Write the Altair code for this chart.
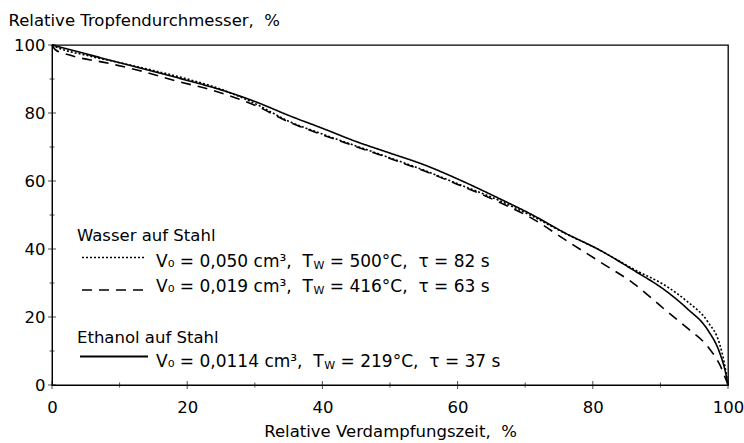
import altair as alt
import pandas as pd

# Evaporation curves: relative drop diameter (%) over relative evaporation time (%)
series_names = ["Wasser 0,050", "Wasser 0,019", "Ethanol 0,0114"]

t_w050 = [0, 1, 5, 10, 15, 20, 25, 30, 35, 40, 45, 50, 55, 60, 66, 71, 76, 81, 86, 91, 94, 97, 98.8, 99.5, 100]
d_w050 = [100, 99.1, 97.0, 94.8, 92.5, 90.0, 87.0, 82.8, 77.6, 73.8, 70.3, 66.8, 63.2, 59.2, 54.4, 49.7, 44.5, 39.7, 34.1, 28.9, 24.5, 18.6, 11.8, 6.0, 0]

t_w019 = [0, 0.5, 2.5, 8.4, 13.3, 18.2, 23.7, 30, 35, 40, 45, 50, 55, 60, 66, 71, 76, 81, 86, 91, 94, 97, 98.8, 100]
d_w019 = [100, 98.6, 97.1, 94.6, 92.3, 89.5, 86.7, 82.3, 77.4, 73.6, 70.1, 66.6, 63.0, 59.0, 53.9, 49.0, 42.6, 36.3, 29.9, 21.6, 16.7, 11.3, 5.9, 0]

t_eth = [0, 5, 10, 15, 20, 25, 30, 35, 40, 45, 50, 55, 60, 66, 71, 76, 81, 86, 91, 94, 97, 98.8, 99.6, 100]
d_eth = [100, 97.4, 94.8, 92.2, 89.6, 86.8, 83.4, 79.3, 75.5, 71.6, 68.2, 64.8, 60.6, 55.0, 50.1, 44.6, 39.7, 33.8, 27.4, 22.4, 16.2, 9.3, 4.0, 0]

tick_major = [0, 20, 40, 60, 80, 100]
tick_minor = [10, 30, 50, 70, 90]

NB = "\u00a0"  # non-breaking space keeps double spaces in SVG text

y_title = f"Relative Tropfendurchmesser,{NB}{NB}%"
x_title = f"Relative Verdampfungszeit,{NB}{NB}%"

legend_heads = ["Wasser auf Stahl", "Ethanol auf Stahl"]
legend_sym = [f"V₀{NB}={NB}0,050{NB}cm³,{NB}{NB}T",
              f"V₀{NB}={NB}0,019{NB}cm³,{NB}{NB}T",
              f"V₀{NB}={NB}0,0114{NB}cm³,{NB}{NB}T"]
legend_sub = "W"
legend_tail = [f"={NB}500°C,{NB}{NB}τ{NB}={NB}82{NB}s",
               f"={NB}416°C,{NB}{NB}τ{NB}={NB}63{NB}s",
               f"={NB}219°C,{NB}{NB}τ{NB}={NB}37{NB}s"]

FONT = "DejaVu Sans"
FS = 16.5
ROW_FS = 17
SUB_FS = 11
W, H = 676, 340

# advance widths (em) of DejaVu Sans, used to place the subscript pieces
ADV = {"V": .684, "₀": .401, NB: .318, " ": .318, "=": .838, "0": .636, "1": .636, "4": .636,
       "5": .636, "9": .636, ",": .318, "c": .550, "m": .974, "³": .401, "T": .611, "W": .989}


def text_width(s, size):
    return sum(ADV.get(ch, .6) for ch in s) * size


frames = []
for name, t, d in zip(series_names, [t_w050, t_w019, t_eth], [d_w050, d_w019, d_eth]):
    frames.append(pd.DataFrame({"t": t, "d": d, "series": name}))
curves = pd.concat(frames, ignore_index=True)

x_scale = alt.Scale(domain=[0, 100], nice=False)
y_scale = alt.Scale(domain=[0, 100], nice=False)

# identical axis definitions in every layer so they merge into one axis each
x_axis = alt.Axis(values=tick_major, title=x_title, ticks=False, grid=False,
                  labelFlush=False, labelPadding=14, titlePadding=8)
y_axis = alt.Axis(values=tick_major, title=y_title, ticks=False, grid=False,
                  labelFlush=False, labelPadding=7, titleAngle=0, titleAlign="left",
                  titleBaseline="alphabetic", titleX=-44, titleY=-20)

lines = alt.Chart(curves).mark_line(color="black", interpolate="monotone").encode(
    x=alt.X("t:Q", scale=x_scale, axis=x_axis),
    y=alt.Y("d:Q", scale=y_scale, axis=y_axis),
    strokeDash=alt.StrokeDash("series:N",
                              scale=alt.Scale(domain=series_names, range=[[2, 2], [10, 7], [1, 0]]),
                              legend=None),
    strokeWidth=alt.StrokeWidth("series:N",
                                scale=alt.Scale(domain=series_names, range=[1.6, 1.6, 1.9]),
                                legend=None),
)

# axis ticks crossing the axis lines
xt_major = alt.Chart(pd.DataFrame({"t": tick_major})).mark_tick(
    orient="vertical", size=8, thickness=1, color="black").encode(
    x=alt.X("t:Q", scale=x_scale, axis=x_axis), y=alt.value(H))
xt_minor = alt.Chart(pd.DataFrame({"t": tick_minor})).mark_tick(
    orient="vertical", size=5, thickness=1, color="black").encode(
    x=alt.X("t:Q", scale=x_scale, axis=x_axis), y=alt.value(H))
yt_major = alt.Chart(pd.DataFrame({"d": tick_major})).mark_tick(
    orient="horizontal", size=8, thickness=1, color="black").encode(
    y=alt.Y("d:Q", scale=y_scale, axis=y_axis), x=alt.value(0))
yt_minor = alt.Chart(pd.DataFrame({"d": tick_minor})).mark_tick(
    orient="horizontal", size=5, thickness=1, color="black").encode(
    y=alt.Y("d:Q", scale=y_scale, axis=y_axis), x=alt.value(0))


# legend block inside the plot
def label(txt, x, y, size=FS):
    return alt.Chart().mark_text(align="left", baseline="alphabetic", font=FONT,
                                 fontSize=size, color="black").encode(
        x=alt.value(x), y=alt.value(y), text=alt.value(txt))


def sample(x1, x2, y, dash, width):
    return alt.Chart().mark_rule(color="black", strokeWidth=width, strokeDash=dash).encode(
        x=alt.value(x1), x2=alt.value(x2), y=alt.value(y))


legend_layers = [
    label(legend_heads[0], 25, 195.5),
    label(legend_heads[1], 25, 298),
    sample(30, 92, 212.5, [2, 2], 1.6),
    sample(30, 92, 245, [10, 7], 1.6),
    sample(28, 96, 311.5, [1, 0], 1.9),
]
row_base = [221.5, 246.5, 321.5]
x0 = 104
for sym, tail, yb in zip(legend_sym, legend_tail, row_base):
    w1 = text_width(sym, ROW_FS)
    w2 = text_width(legend_sub, SUB_FS)
    legend_layers.append(label(sym, x0, yb, ROW_FS))
    legend_layers.append(label(legend_sub, x0 + w1 + 0.5, yb + 2, SUB_FS))
    legend_layers.append(label(tail, x0 + w1 + w2 + 6, yb, ROW_FS))

chart = alt.layer(lines, xt_major, xt_minor, yt_major, yt_minor, *legend_layers).properties(
    width=W, height=H, autosize="none",
    padding={"left": 52, "top": 45, "right": 16, "bottom": 58},
).configure_view(
    stroke="black", strokeWidth=1.3
).configure_axis(
    domainColor="black", domainWidth=1, labelColor="black", titleColor="black",
    labelFont=FONT, titleFont=FONT, labelFontSize=FS, titleFontSize=FS,
    titleFontWeight="normal"
)

chart.save("out.html", embed_options={"renderer": "svg", "actions": False})
